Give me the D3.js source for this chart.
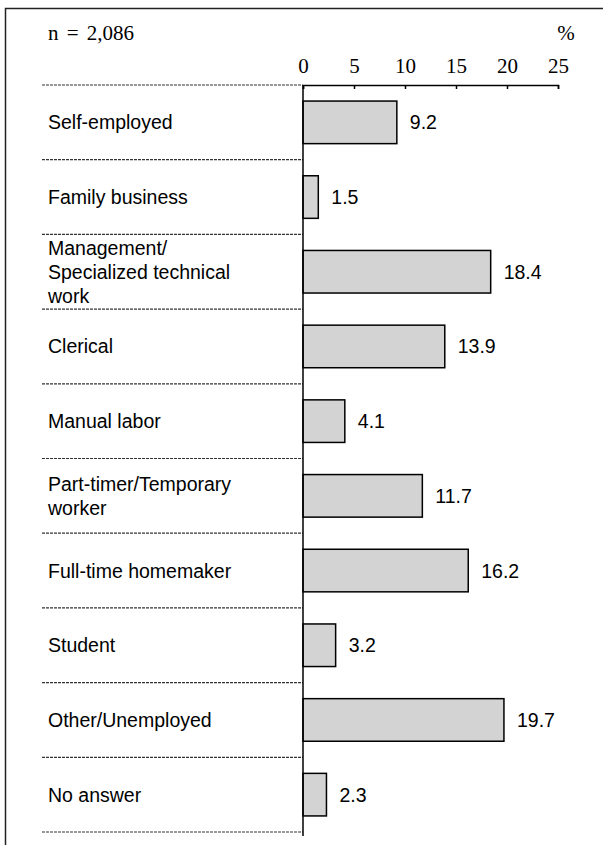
<!DOCTYPE html>
<html>
<head>
<meta charset="utf-8">
<script src="https://cdn.jsdelivr.net/npm/d3@7"></script>
<style>
  html, body { margin: 0; padding: 0; background: #fff; }
  svg { display: block; }
</style>
</head>
<body>
<svg id="chart" width="603" height="845"></svg>
<script>
// Occupation of respondents (%), n = 2,086
const categories = [
  "Self-employed",
  "Family business",
  "Management/\nSpecialized technical\nwork",
  "Clerical",
  "Manual labor",
  "Part-timer/Temporary\nworker",
  "Full-time homemaker",
  "Student",
  "Other/Unemployed",
  "No answer"
];
const values = [9.2, 1.5, 18.4, 13.9, 4.1, 11.7, 16.2, 3.2, 19.7, 2.3];
const tickValues = [0, 5, 10, 15, 20, 25];
const sampleLabel = "n = 2,086";
const unitLabel = "%";

const svg = d3.select("#chart");
const serif = "'Liberation Serif', 'DejaVu Serif', serif";
const sans = "'Liberation Sans', Arial, sans-serif";

// outer frame (open to the right and bottom)
svg.append("path")
  .attr("d", "M5.5,860 L5.5,8.5 L620,8.5")
  .attr("fill", "none")
  .attr("stroke", "#222")
  .attr("stroke-width", 1.5);

const x = d3.scaleLinear().domain([0, 25]).range([303, 558]);
const y = d3.scaleBand().domain(categories).range([85, 832]).padding(0);
const barH = y.bandwidth() * 0.57;

// header texts
svg.append("text")
  .attr("x", 48).attr("y", 40)
  .attr("font-family", serif).attr("font-size", 21)
  .attr("word-spacing", 3)
  .attr("xml:space", "preserve")
  .text(sampleLabel);
svg.append("text")
  .attr("x", 566).attr("y", 40)
  .attr("text-anchor", "middle")
  .attr("font-family", serif).attr("font-size", 21)
  .text(unitLabel);

// top axis: ticks hang below the line
const axis = svg.append("g")
  .attr("transform", "translate(0,85)")
  .call(d3.axisTop(x).tickValues(tickValues).tickSizeInner(-4).tickSizeOuter(-4).tickPadding(8));
axis.select(".domain").attr("stroke", "#000").attr("stroke-width", 1.5);
axis.selectAll(".tick line").attr("stroke", "#000").attr("stroke-width", 1.5);
axis.selectAll(".tick text")
  .attr("font-family", serif).attr("font-size", 21)
  .attr("fill", "#000")
  .attr("y", -12);

// dotted row separators on the label side
const bounds = categories.map(c => y(c)).concat([y(categories[categories.length - 1]) + y.bandwidth()]);
svg.append("g").selectAll("line")
  .data(bounds)
  .join("line")
  .attr("x1", 42).attr("x2", x(0))
  .attr("y1", d => d).attr("y2", d => d)
  .attr("stroke", "#333")
  .attr("stroke-width", 1.2)
  .attr("stroke-dasharray", "3,1");

// bars
svg.append("g").selectAll("rect")
  .data(values)
  .join("rect")
  .attr("x", x(0))
  .attr("y", (d, i) => y(categories[i]) + (y.bandwidth() - barH) / 2)
  .attr("width", d => x(d) - x(0))
  .attr("height", barH)
  .attr("fill", "#d3d3d3")
  .attr("stroke", "#000")
  .attr("stroke-width", 1.5);

// vertical baseline
svg.append("line")
  .attr("x1", x(0)).attr("x2", x(0))
  .attr("y1", 85).attr("y2", 836)
  .attr("stroke", "#000").attr("stroke-width", 1.5);

// value labels
svg.append("g").selectAll("text")
  .data(values)
  .join("text")
  .attr("x", d => x(d) + 13)
  .attr("y", (d, i) => y(categories[i]) + y.bandwidth() / 2)
  .attr("dy", "0.36em")
  .attr("font-family", sans).attr("font-size", 19.5)
  .text(d => d.toFixed(1));

// category labels (multi-line where needed)
const lineH = 24;
svg.append("g").selectAll("text")
  .data(categories)
  .join("text")
  .attr("font-family", sans).attr("font-size", 19.5)
  .each(function(c) {
    const lines = c.split("\n");
    const cy = y(c) + y.bandwidth() / 2;
    const t = d3.select(this);
    lines.forEach((ln, k) => {
      t.append("tspan")
        .attr("x", 48)
        .attr("y", cy + (k - (lines.length - 1) / 2) * lineH)
        .attr("dy", "0.36em")
        .text(ln);
    });
  });
</script>
</body>
</html>
